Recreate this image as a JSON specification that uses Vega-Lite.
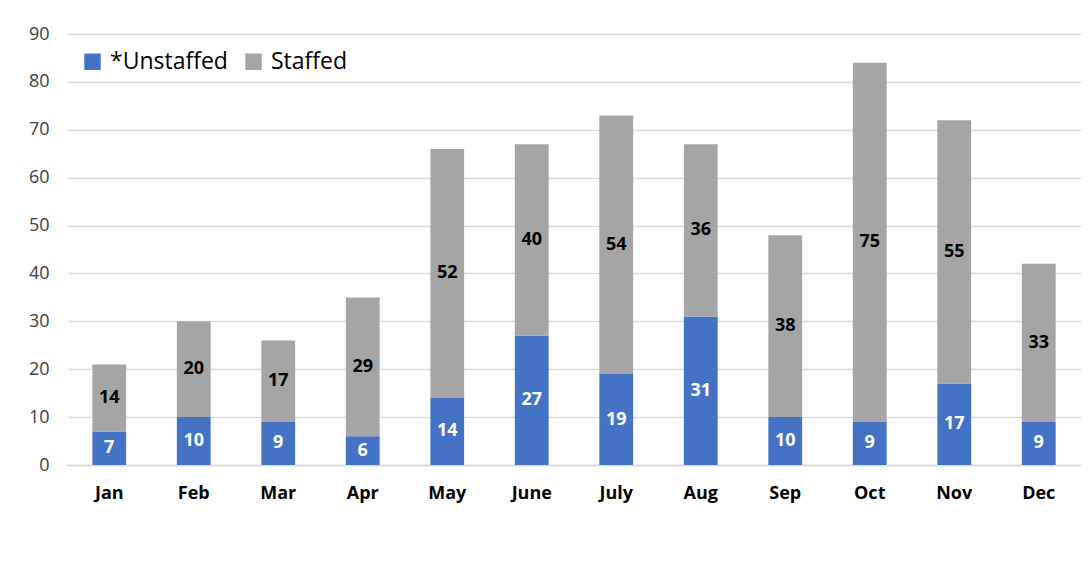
{
  "$schema": "https://vega.github.io/schema/vega-lite/v6.json",
  "width": 1014,
  "height": 431,
  "autosize": {"type": "none"},
  "padding": {"left": 67, "top": 34, "right": 10, "bottom": 109},
  "background": "white",
  "config": {
    "font": "Open Sans",
    "view": {"stroke": null}
  },
  "data": {
    "values": [
      {"month": "Jan", "series": "*Unstaffed", "ord": 1, "value": 7},
      {"month": "Jan", "series": "Staffed", "ord": 2, "value": 14},
      {"month": "Feb", "series": "*Unstaffed", "ord": 1, "value": 10},
      {"month": "Feb", "series": "Staffed", "ord": 2, "value": 20},
      {"month": "Mar", "series": "*Unstaffed", "ord": 1, "value": 9},
      {"month": "Mar", "series": "Staffed", "ord": 2, "value": 17},
      {"month": "Apr", "series": "*Unstaffed", "ord": 1, "value": 6},
      {"month": "Apr", "series": "Staffed", "ord": 2, "value": 29},
      {"month": "May", "series": "*Unstaffed", "ord": 1, "value": 14},
      {"month": "May", "series": "Staffed", "ord": 2, "value": 52},
      {"month": "June", "series": "*Unstaffed", "ord": 1, "value": 27},
      {"month": "June", "series": "Staffed", "ord": 2, "value": 40},
      {"month": "July", "series": "*Unstaffed", "ord": 1, "value": 19},
      {"month": "July", "series": "Staffed", "ord": 2, "value": 54},
      {"month": "Aug", "series": "*Unstaffed", "ord": 1, "value": 31},
      {"month": "Aug", "series": "Staffed", "ord": 2, "value": 36},
      {"month": "Sep", "series": "*Unstaffed", "ord": 1, "value": 10},
      {"month": "Sep", "series": "Staffed", "ord": 2, "value": 38},
      {"month": "Oct", "series": "*Unstaffed", "ord": 1, "value": 9},
      {"month": "Oct", "series": "Staffed", "ord": 2, "value": 75},
      {"month": "Nov", "series": "*Unstaffed", "ord": 1, "value": 17},
      {"month": "Nov", "series": "Staffed", "ord": 2, "value": 55},
      {"month": "Dec", "series": "*Unstaffed", "ord": 1, "value": 9},
      {"month": "Dec", "series": "Staffed", "ord": 2, "value": 33}
    ]
  },
  "encoding": {
    "x": {
      "field": "month",
      "type": "nominal",
      "sort": null,
      "scale": {"paddingInner": 0.6, "paddingOuter": 0.3},
      "axis": {
        "title": null,
        "labelAngle": 0,
        "labelFont": "Open Sans",
        "labelFontSize": 18,
        "labelFontWeight": "bold",
        "labelColor": "#000000",
        "labelPadding": 19,
        "ticks": false,
        "domainColor": "#d9d9d9",
        "domainWidth": 1.5
      }
    }
  },
  "layer": [
    {
      "mark": {"type": "bar"},
      "encoding": {
        "y": {
          "field": "value",
          "type": "quantitative",
          "stack": "zero",
          "scale": {"domain": [0, 90]},
          "axis": {
            "title": null,
            "values": [0, 10, 20, 30, 40, 50, 60, 70, 80, 90],
            "domain": false,
            "ticks": false,
            "gridColor": "#d9d9d9",
            "gridWidth": 1.5,
            "labelFont": "Open Sans",
            "labelFontSize": 18,
            "labelColor": "#404040",
            "labelPadding": 18
          }
        },
        "order": {"field": "ord", "type": "quantitative"},
        "color": {
          "field": "series",
          "type": "nominal",
          "scale": {"domain": ["*Unstaffed", "Staffed"], "range": ["#4472C4", "#A5A5A5"]},
          "legend": {
            "title": null,
            "orient": "none",
            "legendX": 14,
            "legendY": 16,
            "direction": "horizontal",
            "symbolType": "square",
            "symbolSize": 270,
            "symbolStrokeWidth": 0,
            "labelFont": "Open Sans",
            "labelFontSize": 23,
            "labelColor": "#000000",
            "columnPadding": 14,
            "labelOffset": 6
          }
        }
      }
    },
    {
      "transform": [
        {"stack": "value", "groupby": ["month"], "sort": [{"field": "ord"}], "as": ["v0", "v1"]},
        {"calculate": "(datum.v0 + datum.v1) / 2", "as": "mid"}
      ],
      "mark": {"type": "text", "font": "Open Sans", "fontSize": 18, "fontWeight": "bold", "baseline": "middle", "align": "center"},
      "encoding": {
        "y": {"field": "mid", "type": "quantitative"},
        "text": {"field": "value", "type": "quantitative"},
        "color": {
          "condition": {"test": "datum.series === '*Unstaffed'", "value": "#ffffff"},
          "value": "#000000"
        }
      }
    }
  ]
}
